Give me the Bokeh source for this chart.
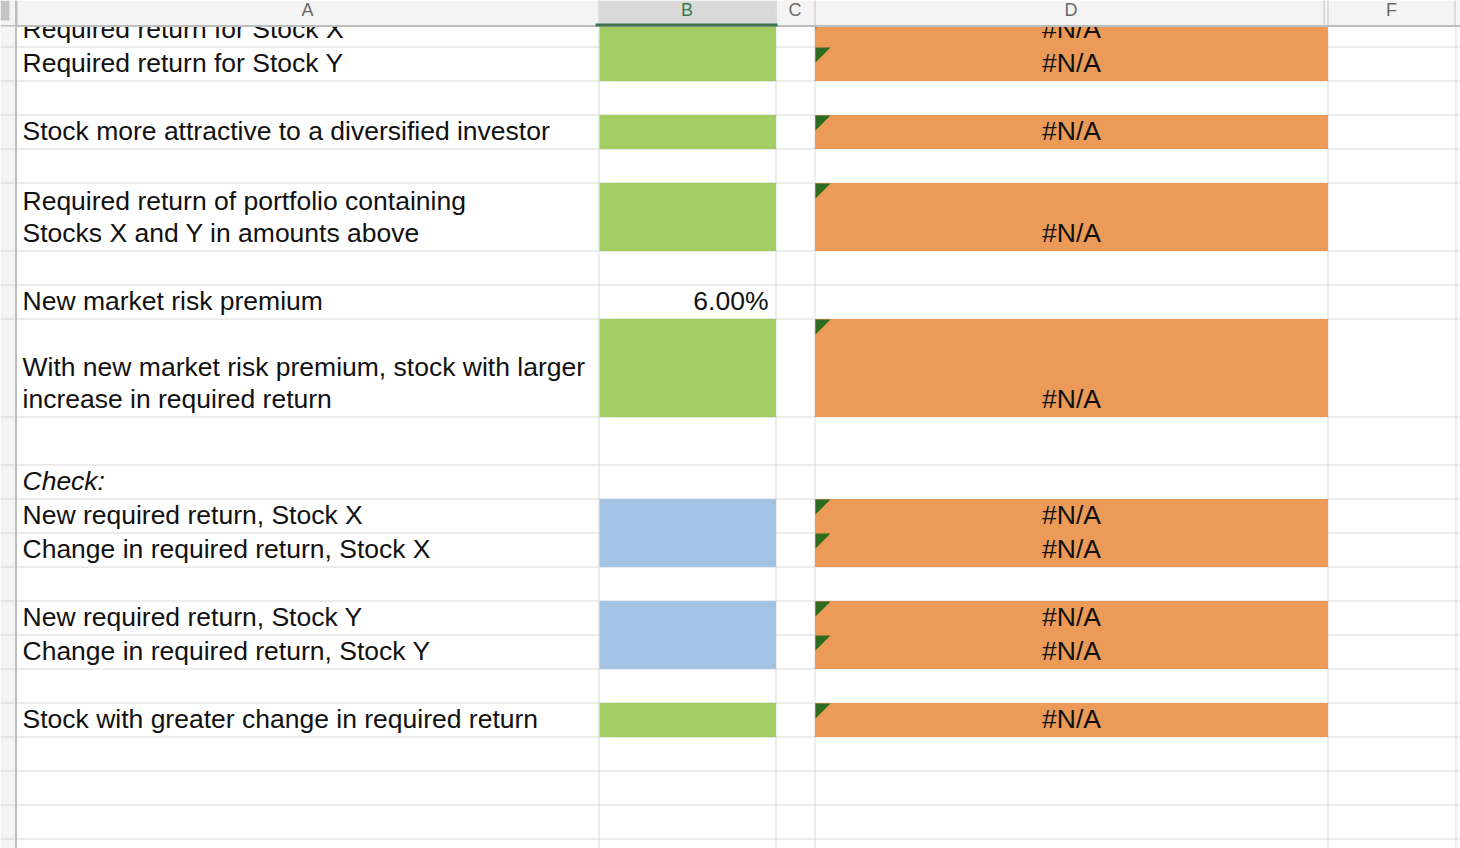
from bokeh.plotting import figure
from bokeh.models import Range1d
from bokeh.core.properties import value
from bokeh.embed import file_html
from bokeh.resources import INLINE

# ---------------- data ----------------
col_letters = ["A", "B", "C", "D", "F"]
col_edges = [16, 598, 775, 814, 1327, 1455]      # left/right edges of A, B, C, D, F (E hidden)
hidden_col_edge = 1323
first_row_top = 12
row_heights = [34, 34, 34, 34, 34, 68, 34, 34, 98, 48, 34, 34, 34, 34, 34, 34, 34, 34, 34, 34, 34, 34]

row_labels = [
    "Required return for Stock X",
    "Required return for Stock Y",
    "",
    "Stock more attractive to a diversified investor",
    "",
    "Required return of portfolio containing\nStocks X and Y in amounts above",
    "",
    "New market risk premium",
    "With new market risk premium, stock with larger\nincrease in required return",
    "",
    "Check:",
    "New required return, Stock X",
    "Change in required return, Stock X",
    "",
    "New required return, Stock Y",
    "Change in required return, Stock Y",
    "",
    "Stock with greater change in required return",
    "", "", "", "",
]
label_italic = [r == "Check:" for r in row_labels]
col_b_values = ["", "", "", "", "", "", "", "6.00%", "", "", "", "", "", "", "", "", "", "", "", "", "", ""]
col_b_fill = ["green", "green", "", "green", "", "green", "", "", "green", "", "",
              "blue", "blue", "", "blue", "blue", "", "green", "", "", "", ""]
col_d_values = ["#N/A", "#N/A", "", "#N/A", "", "#N/A", "", "", "#N/A", "", "",
                "#N/A", "#N/A", "", "#N/A", "#N/A", "", "#N/A", "", "", "", ""]

# ---------------- style ----------------
FILL = {"green": "#a1cd63", "blue": "#a4c2e4", "orange": "#eb9a58"}
GRID = "#d9d9d9"
TEXT = "#111111"
FONT = "Liberation Sans"
FS = "26.5px"
PAD_BOTTOM = 18
LINE_GAP = 32
W, H = 1460, 848

# row geometry
tops, bottoms = [], []
y = first_row_top
for h in row_heights:
    tops.append(y)
    y += h
    bottoms.append(y)

p = figure(width=W, height=H, output_backend="svg", toolbar_location=None,
           x_range=Range1d(0, W), y_range=Range1d(H, 0),
           min_border=0, outline_line_color=None, background_fill_color="white")
p.axis.visible = False
p.grid.visible = False

# gridlines
hy = [b + 0.5 for b in bottoms]
p.segment(x0=[16] * len(hy), x1=[W] * len(hy), y0=hy, y1=hy, line_color=GRID, line_width=1)
vx = [e + 0.5 for e in col_edges[1:]]
p.segment(x0=vx, x1=vx, y0=[0] * len(vx), y1=[H + 20] * len(vx), line_color=GRID, line_width=1)

# fills in column B
bl, br, bt, bb, bc = [], [], [], [], []
for i, f in enumerate(col_b_fill):
    if f:
        bl.append(col_edges[1] + 1); br.append(col_edges[2] + 0.5)
        bt.append(tops[i] + 0.5); bb.append(bottoms[i] + 0.5); bc.append(FILL[f])
p.quad(left=bl, right=br, top=bt, bottom=bb, fill_color=bc, line_color=None)

# fills + triangles in column D
dl, dr, dt, db = [], [], [], []
txs, tys = [], []
for i, v in enumerate(col_d_values):
    if v:
        dl.append(col_edges[3] + 0.5); dr.append(col_edges[4] + 0.5)
        dt.append(tops[i] + 0.5); db.append(bottoms[i] + 0.5)
        x0 = col_edges[3] + 1
        y0 = tops[i] + 1
        txs.append([x0, x0 + 15, x0]); tys.append([y0, y0, y0 + 15])
p.quad(left=dl, right=dr, top=dt, bottom=db, fill_color=FILL["orange"], line_color=None)
p.patches(xs=txs, ys=tys, fill_color="#2f6b1f", line_color=None)

# column A labels (multi-line split into individual baselines)
ax, ay, at, ast = [], [], [], []
for i, lab in enumerate(row_labels):
    if not lab:
        continue
    lines = lab.split("\n")
    n = len(lines)
    for k, ln in enumerate(lines):
        ax.append(col_edges[0] + 6)
        ay.append(bottoms[i] - PAD_BOTTOM - (n - 1 - k) * LINE_GAP)
        at.append(ln)
        ast.append("italic" if label_italic[i] else "normal")
p.text(x=ax, y=ay, text=at, text_font=value(FONT), text_font_size=FS, text_font_style=ast,
       text_color=TEXT, text_baseline="alphabetic", text_align="left")

# column B values (right aligned)
bx, by, btx = [], [], []
for i, v in enumerate(col_b_values):
    if v:
        bx.append(col_edges[2] - 7); by.append(bottoms[i] - PAD_BOTTOM); btx.append(v)
p.text(x=bx, y=by, text=btx, text_font=value(FONT), text_font_size=FS,
       text_color=TEXT, text_baseline="alphabetic", text_align="right")

# column D values (centered)
dx, dy, dtx = [], [], []
for i, v in enumerate(col_d_values):
    if v:
        dx.append((col_edges[3] + col_edges[4]) / 2 + 0.5); dy.append(bottoms[i] - PAD_BOTTOM); dtx.append(v)
p.text(x=dx, y=dy, text=dtx, text_font=value(FONT), text_font_size=FS,
       text_color=TEXT, text_baseline="alphabetic", text_align="center")

# ---------------- column header band ----------------
p.quad(left=[0], right=[W], top=[0], bottom=[25], fill_color="#f4f4f4", line_color=None)
p.quad(left=[col_edges[1]], right=[col_edges[2] + 1], top=[0], bottom=[25], fill_color="#d9d9d9", line_color=None)
hx = [e + 0.5 for e in col_edges[:-1]] + [col_edges[-1] - 0.5, hidden_col_edge + 0.5]
p.segment(x0=hx, x1=hx, y0=[0] * len(hx), y1=[25] * len(hx), line_color="#dcdcdc", line_width=2)
p.segment(x0=[0], x1=[W], y0=[25.5], y1=[25.5], line_color="#bdbdbd", line_width=2)
p.segment(x0=[col_edges[1] - 3], x1=[col_edges[2] + 2], y0=[24.5], y1=[24.5], line_color="#3e7250", line_width=3)
centers = [(col_edges[i] + col_edges[i + 1]) / 2 for i in range(len(col_letters))]
hcolors = ["#3d7a4e" if c == "B" else "#6a6a6a" for c in col_letters]
p.text(x=centers, y=[9] * len(centers), text=col_letters, text_font=value(FONT), text_font_size="18px",
       text_color=hcolors, text_baseline="alphabetic", text_align="center")

# ---------------- row header strip ----------------
p.quad(left=[0], right=[15], top=[26], bottom=[H + 20], fill_color="#f4f4f4", line_color=None)
p.quad(left=[0], right=[9], top=[0], bottom=[20], fill_color="#c4c4c4", line_color=None)
p.segment(x0=[0] * len(hy), x1=[15] * len(hy), y0=hy, y1=hy, line_color="#d4d4d4", line_width=1)
p.segment(x0=[15.5], x1=[15.5], y0=[0], y1=[H + 20], line_color="#bdbdbd", line_width=2)

open("out.html", "w").write(file_html(p, INLINE))
